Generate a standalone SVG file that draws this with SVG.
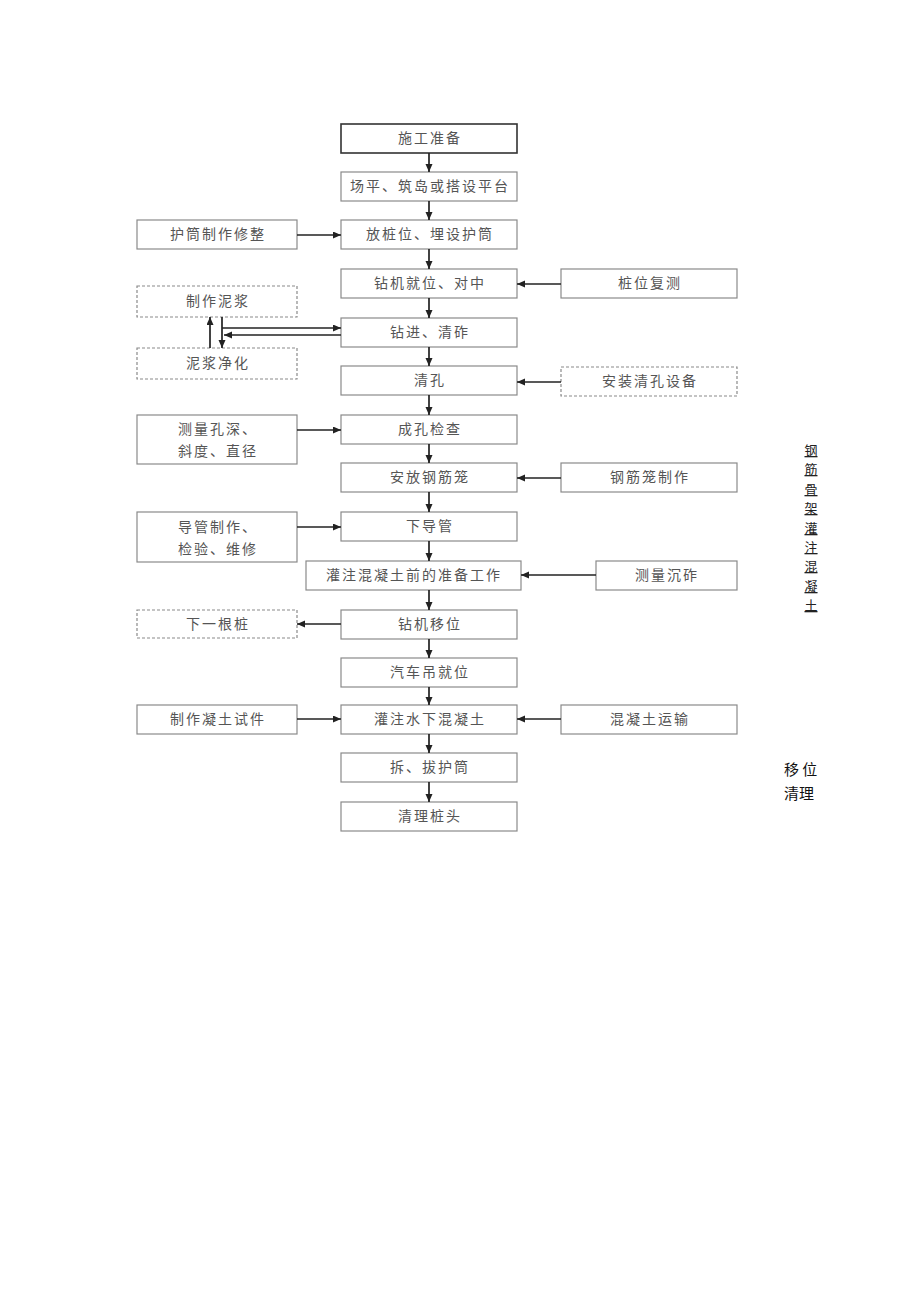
<svg xmlns="http://www.w3.org/2000/svg" width="920" height="1301" viewBox="0 0 920 1301">
<style>
.box{fill:#fff;stroke:#8a8a8a;stroke-width:1.2}
.dash{fill:#fff;stroke:#8a8a8a;stroke-width:1.2;stroke-dasharray:3 2}
.main{fill:#fff;stroke:#333;stroke-width:1.6}
.t{font-family:"Noto Sans CJK SC","Noto Sans",sans-serif;font-size:14px;fill:#555;letter-spacing:2px;text-anchor:middle}
.c{stroke:#222;stroke-width:1.7;fill:none;marker-end:url(#ah)}
.side{font-family:"Noto Sans CJK SC",serif;font-size:13px;fill:#222;text-anchor:middle;text-decoration:underline;text-underline-offset:3px}
.note{font-family:"Noto Sans CJK SC",sans-serif;font-size:15px;fill:#111}
</style>
<defs>
<marker id="ah" markerUnits="userSpaceOnUse" markerWidth="9" markerHeight="8" refX="8" refY="3.5" orient="auto">
<path d="M0,0 L8,3.5 L0,7 z" fill="#222"/>
</marker>
</defs>
<rect width="920" height="1301" fill="#fff"/>

<g id="n1"><rect class="main" x="341" y="124" width="176" height="29"/><text class="t" x="430" y="143">施工准备</text></g>
<g id="n2"><rect class="box" x="341" y="172" width="176" height="29"/><text class="t" x="430" y="191">场平、筑岛或搭设平台</text></g>
<g id="n3"><rect class="box" x="341" y="220" width="176" height="29"/><text class="t" x="430" y="239">放桩位、埋设护筒</text></g>
<g id="n4"><rect class="box" x="341" y="269" width="176" height="29"/><text class="t" x="430" y="288">钻机就位、对中</text></g>
<g id="n5"><rect class="box" x="341" y="318" width="176" height="29"/><text class="t" x="430" y="337">钻进、清砟</text></g>
<g id="n6"><rect class="box" x="341" y="366" width="176" height="29"/><text class="t" x="430" y="385">清孔</text></g>
<g id="n7"><rect class="box" x="341" y="415" width="176" height="29"/><text class="t" x="430" y="434">成孔检查</text></g>
<g id="n8"><rect class="box" x="341" y="463" width="176" height="29"/><text class="t" x="430" y="482">安放钢筋笼</text></g>
<g id="n9"><rect class="box" x="341" y="512" width="176" height="29"/><text class="t" x="430" y="531">下导管</text></g>
<g id="n10"><rect class="box" x="306" y="561" width="215" height="29"/><text class="t" x="414" y="580">灌注混凝土前的准备工作</text></g>
<g id="n11"><rect class="box" x="341" y="610" width="176" height="29"/><text class="t" x="430" y="629">钻机移位</text></g>
<g id="n12"><rect class="box" x="341" y="658" width="176" height="29"/><text class="t" x="430" y="677">汽车吊就位</text></g>
<g id="n13"><rect class="box" x="341" y="705" width="176" height="29"/><text class="t" x="430" y="724">灌注水下混凝土</text></g>
<g id="n14"><rect class="box" x="341" y="753" width="176" height="29"/><text class="t" x="430" y="772">拆、拔护筒</text></g>
<g id="n15"><rect class="box" x="341" y="802" width="176" height="29"/><text class="t" x="430" y="821">清理桩头</text></g>

<g id="l1"><rect class="box" x="137" y="220" width="160" height="29"/><text class="t" x="218" y="239">护筒制作修整</text></g>
<g id="l2"><rect class="dash" x="137" y="286" width="160" height="31"/><text class="t" x="218" y="306">制作泥浆</text></g>
<g id="l3"><rect class="dash" x="137" y="348" width="160" height="31"/><text class="t" x="218" y="368">泥浆净化</text></g>
<g id="l4"><rect class="box" x="137" y="415" width="160" height="49"/><text class="t" x="218" y="434">测量孔深、</text><text class="t" x="218" y="456">斜度、直径</text></g>
<g id="l5"><rect class="box" x="137" y="512" width="160" height="50"/><text class="t" x="218" y="532">导管制作、</text><text class="t" x="218" y="554">检验、维修</text></g>
<g id="l6"><rect class="dash" x="137" y="610" width="160" height="28"/><text class="t" x="218" y="629">下一根桩</text></g>
<g id="l7"><rect class="box" x="137" y="705" width="160" height="29"/><text class="t" x="218" y="724">制作凝土试件</text></g>

<g id="r1"><rect class="box" x="561" y="269" width="176" height="29"/><text class="t" x="650" y="288">桩位复测</text></g>
<g id="r2"><rect class="dash" x="561" y="367" width="176" height="29"/><text class="t" x="650" y="386">安装清孔设备</text></g>
<g id="r3"><rect class="box" x="561" y="463" width="176" height="29"/><text class="t" x="650" y="482">钢筋笼制作</text></g>
<g id="r4"><rect class="box" x="596" y="561" width="141" height="29"/><text class="t" x="667" y="580">测量沉砟</text></g>
<g id="r5"><rect class="box" x="561" y="705" width="176" height="29"/><text class="t" x="650" y="724">混凝土运输</text></g>

<g id="connectors">
<line class="c" x1="429" y1="153" x2="429" y2="172"/>
<line class="c" x1="429" y1="201" x2="429" y2="220"/>
<line class="c" x1="429" y1="249" x2="429" y2="269"/>
<line class="c" x1="429" y1="298" x2="429" y2="318"/>
<line class="c" x1="429" y1="347" x2="429" y2="366"/>
<line class="c" x1="429" y1="395" x2="429" y2="415"/>
<line class="c" x1="429" y1="444" x2="429" y2="463"/>
<line class="c" x1="429" y1="492" x2="429" y2="512"/>
<line class="c" x1="429" y1="541" x2="429" y2="561"/>
<line class="c" x1="429" y1="590" x2="429" y2="610"/>
<line class="c" x1="429" y1="639" x2="429" y2="658"/>
<line class="c" x1="429" y1="687" x2="429" y2="705"/>
<line class="c" x1="429" y1="734" x2="429" y2="753"/>
<line class="c" x1="429" y1="782" x2="429" y2="802"/>

<line class="c" x1="297" y1="235" x2="341" y2="235"/>
<line class="c" x1="561" y1="284" x2="517" y2="284"/>
<line class="c" x1="210" y1="348" x2="210" y2="317"/>
<line class="c" x1="222" y1="317" x2="222" y2="348"/>
<line class="c" x1="222" y1="328" x2="341" y2="328"/>
<line class="c" x1="341" y1="335" x2="224" y2="335"/>
<line class="c" x1="561" y1="382" x2="517" y2="382"/>
<line class="c" x1="297" y1="430" x2="341" y2="430"/>
<line class="c" x1="561" y1="478" x2="517" y2="478"/>
<line class="c" x1="297" y1="527" x2="341" y2="527"/>
<line class="c" x1="596" y1="575" x2="521" y2="575"/>
<line class="c" x1="341" y1="624" x2="297" y2="624"/>
<line class="c" x1="297" y1="719" x2="341" y2="719"/>
<line class="c" x1="561" y1="719" x2="517" y2="719"/>
</g>

<g id="sidenote">
<text class="side" x="811" y="455">钢</text>
<text class="side" x="811" y="474">筋</text>
<text class="side" x="811" y="494">骨</text>
<text class="side" x="811" y="513">架</text>
<text class="side" x="811" y="533">灌</text>
<text class="side" x="811" y="552">注</text>
<text class="side" x="811" y="571">混</text>
<text class="side" x="811" y="591">凝</text>
<text class="side" x="811" y="610">土</text>
<text class="note" x="784" y="775">移 位</text>
<text class="note" x="784" y="799">清理</text>
</g>
</svg>
